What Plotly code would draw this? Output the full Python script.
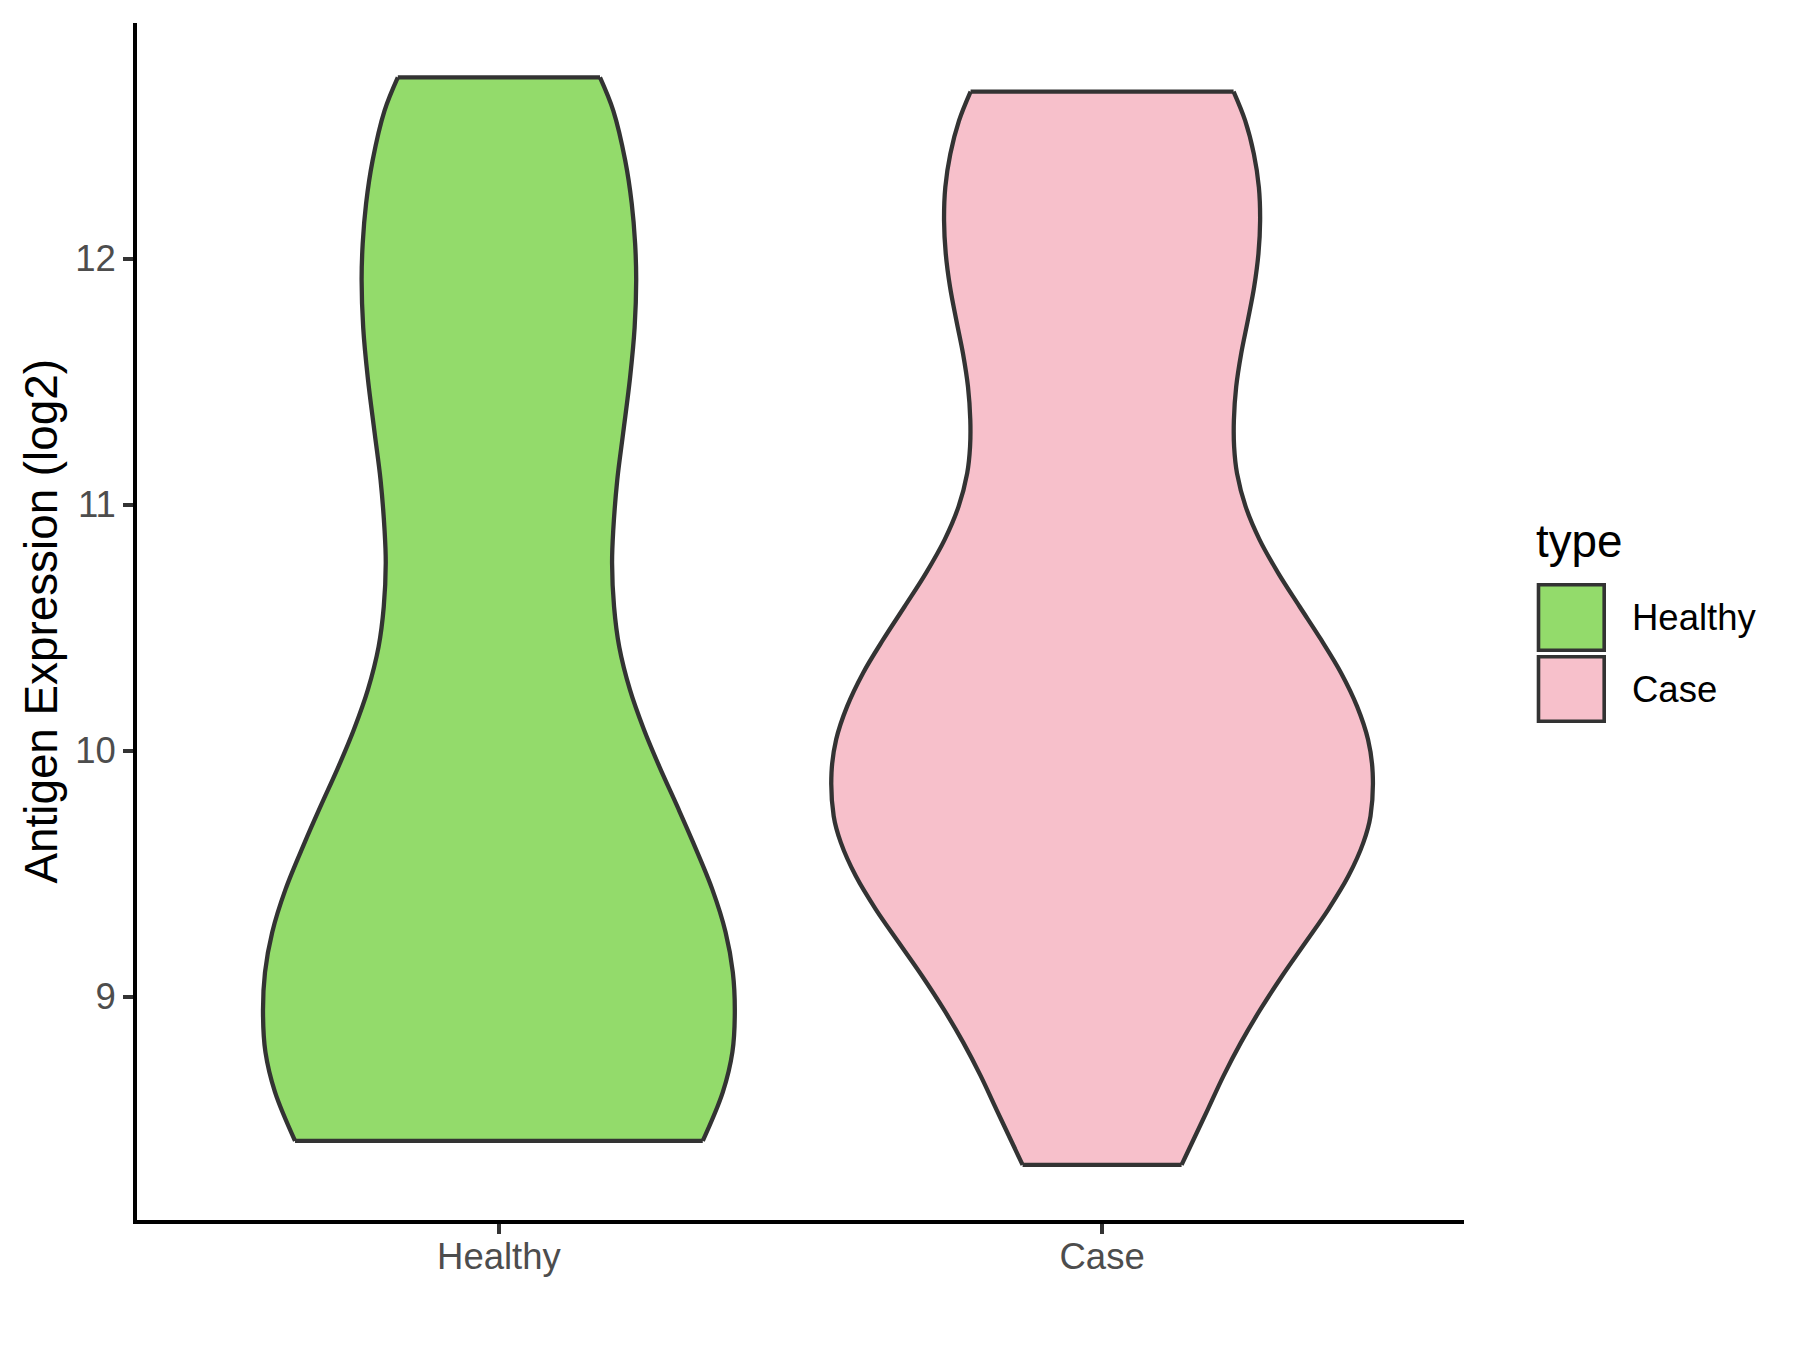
import plotly.graph_objects as go

# ---- data (violin outlines: expression level and half-width) ----
categories = ["Healthy", "Case"]
fill_colors = ["#93DB6B", "#F7C0CB"]

healthy_y = [12.737, 12.602, 12.399, 12.224, 12.062, 11.912, 11.721, 11.518, 11.291, 11.100,
             10.897, 10.763, 10.585, 10.422, 10.248, 10.086, 9.935, 9.773, 9.627, 9.436,
             9.262, 9.099, 8.937, 8.775, 8.612, 8.414]
healthy_hw = [0.1676, 0.1896, 0.2094, 0.2202, 0.2258, 0.2276, 0.2250, 0.2175, 0.2060, 0.1962,
              0.1896, 0.1876, 0.1909, 0.1995, 0.2172, 0.2404, 0.2660, 0.2958, 0.3219, 0.3538,
              0.3758, 0.3878, 0.3911, 0.3871, 0.3712, 0.3380]

case_y = [12.679, 12.561, 12.426, 12.291, 12.155, 12.020, 11.885, 11.750, 11.614, 11.479,
          11.344, 11.235, 11.127, 10.992, 10.857, 10.722, 10.586, 10.451, 10.316, 10.180,
          10.045, 9.910, 9.734, 9.626, 9.490, 9.355, 9.220, 9.084, 8.949, 8.814,
          8.679, 8.543, 8.408, 8.316]
case_hw = [0.2180, 0.2372, 0.2516, 0.2599, 0.2620, 0.2592, 0.2521, 0.2417, 0.2306, 0.2223,
           0.2185, 0.2189, 0.2237, 0.2380, 0.2612, 0.2920, 0.3274, 0.3631, 0.3962, 0.4227,
           0.4409, 0.4486, 0.4450, 0.4331, 0.4083, 0.3752, 0.3371, 0.2984, 0.2627, 0.2303,
           0.2015, 0.1755, 0.1495, 0.1318]

y_ticks = [9, 10, 11, 12]

profiles = [(healthy_y, healthy_hw), (case_y, case_hw)]

FONT = "Liberation Sans, Arial, sans-serif"
OUTLINE = "#333333"
LW = 4.3

fig = go.Figure()
for i, (cat, (ys, hws)) in enumerate(zip(categories, profiles)):
    center = i + 1
    left = [center - h for h in hws]
    right = [center + h for h in hws]
    # filled body (straight segments, no stroke)
    fig.add_trace(go.Scatter(
        x=left + right[::-1] + [left[0]], y=list(ys) + list(ys)[::-1] + [ys[0]],
        mode="lines", fill="toself", fillcolor=fill_colors[i],
        line=dict(width=0, color=fill_colors[i]),
        name=cat, showlegend=False, hoverinfo="skip",
    ))
    # smooth sides
    fig.add_trace(go.Scatter(
        x=left + [None] + right, y=list(ys) + [None] + list(ys),
        mode="lines", line=dict(color=OUTLINE, width=LW, shape="spline", smoothing=1.0),
        showlegend=False, hoverinfo="skip", connectgaps=False,
    ))
    # flat top and bottom (trimmed ends)
    fig.add_trace(go.Scatter(
        x=[left[0], right[0], None, left[-1], right[-1]],
        y=[ys[0], ys[0], None, ys[-1], ys[-1]],
        mode="lines", line=dict(color=OUTLINE, width=LW),
        showlegend=False, hoverinfo="skip", connectgaps=False,
    ))

# page has an 8px body margin, so the figure is sized/positioned to compensate
OFF = 8
W, H = 1800 - OFF, 1350 - OFF
PL, PR, PT, PB = 137, 1464, 23, 1220          # panel edges in page pixels
L, T = PL - OFF, PT - OFF
R = W - (PR - OFF)
B = H - (PB - OFF)
pw, ph = PR - PL, PB - PT


def px_x(px):
    return (px - PL) / pw


def px_y(py):
    return (PB - py) / ph


shapes = []
annotations = []
# manual legend in ggplot style
legend_boxes = [(583, 652), (655, 723)]
for (top, bot), col, cat in zip(legend_boxes, fill_colors, categories):
    shapes.append(dict(type="rect", xref="paper", yref="paper",
                       x0=px_x(1538.5), x1=px_x(1604.2),
                       y0=px_y(bot - 1.8), y1=px_y(top + 1.8),
                       fillcolor=col, line=dict(color=OUTLINE, width=3.6)))
    annotations.append(dict(xref="paper", yref="paper", x=px_x(1630), y=px_y((top + bot) / 2),
                            text=cat, showarrow=False, xanchor="left", yanchor="middle",
                            font=dict(family=FONT, size=36.5, color="black")))
annotations.append(dict(xref="paper", yref="paper", x=px_x(1534), y=px_y(541),
                        text="type", showarrow=False, xanchor="left", yanchor="middle",
                        font=dict(family=FONT, size=45.8, color="black")))
annotations.append(dict(xref="paper", yref="paper", x=px_x(41), y=0.5,
                        text="Antigen Expression (log2)", showarrow=False, textangle=-90,
                        xanchor="center", yanchor="middle",
                        font=dict(family=FONT, size=45.8, color="black")))

fig.update_layout(
    width=W, height=H,
    margin=dict(l=L, r=R, t=T, b=B, autoexpand=False),
    paper_bgcolor="white", plot_bgcolor="white",
    showlegend=False,
    shapes=shapes, annotations=annotations,
    font=dict(family=FONT),
    xaxis=dict(range=[0.4, 2.6], tickvals=[1, 2], ticktext=categories,
               showline=True, linecolor="black", linewidth=3.8,
               ticks="outside", ticklen=10, tickwidth=3.8, tickcolor=OUTLINE,
               showgrid=False, zeroline=False, ticklabelstandoff=-9,
               tickfont=dict(family=FONT, size=36.5, color="#4D4D4D")),
    yaxis=dict(range=[8.092, 12.958], tickvals=y_ticks, ticktext=[str(v) for v in y_ticks],
               showline=True, linecolor="black", linewidth=3.8,
               ticks="outside", ticklen=10, tickwidth=3.8, tickcolor=OUTLINE,
               showgrid=False, zeroline=False, ticklabelstandoff=0,
               tickfont=dict(family=FONT, size=36.5, color="#4D4D4D")),
)

fig.write_html("out.html")
